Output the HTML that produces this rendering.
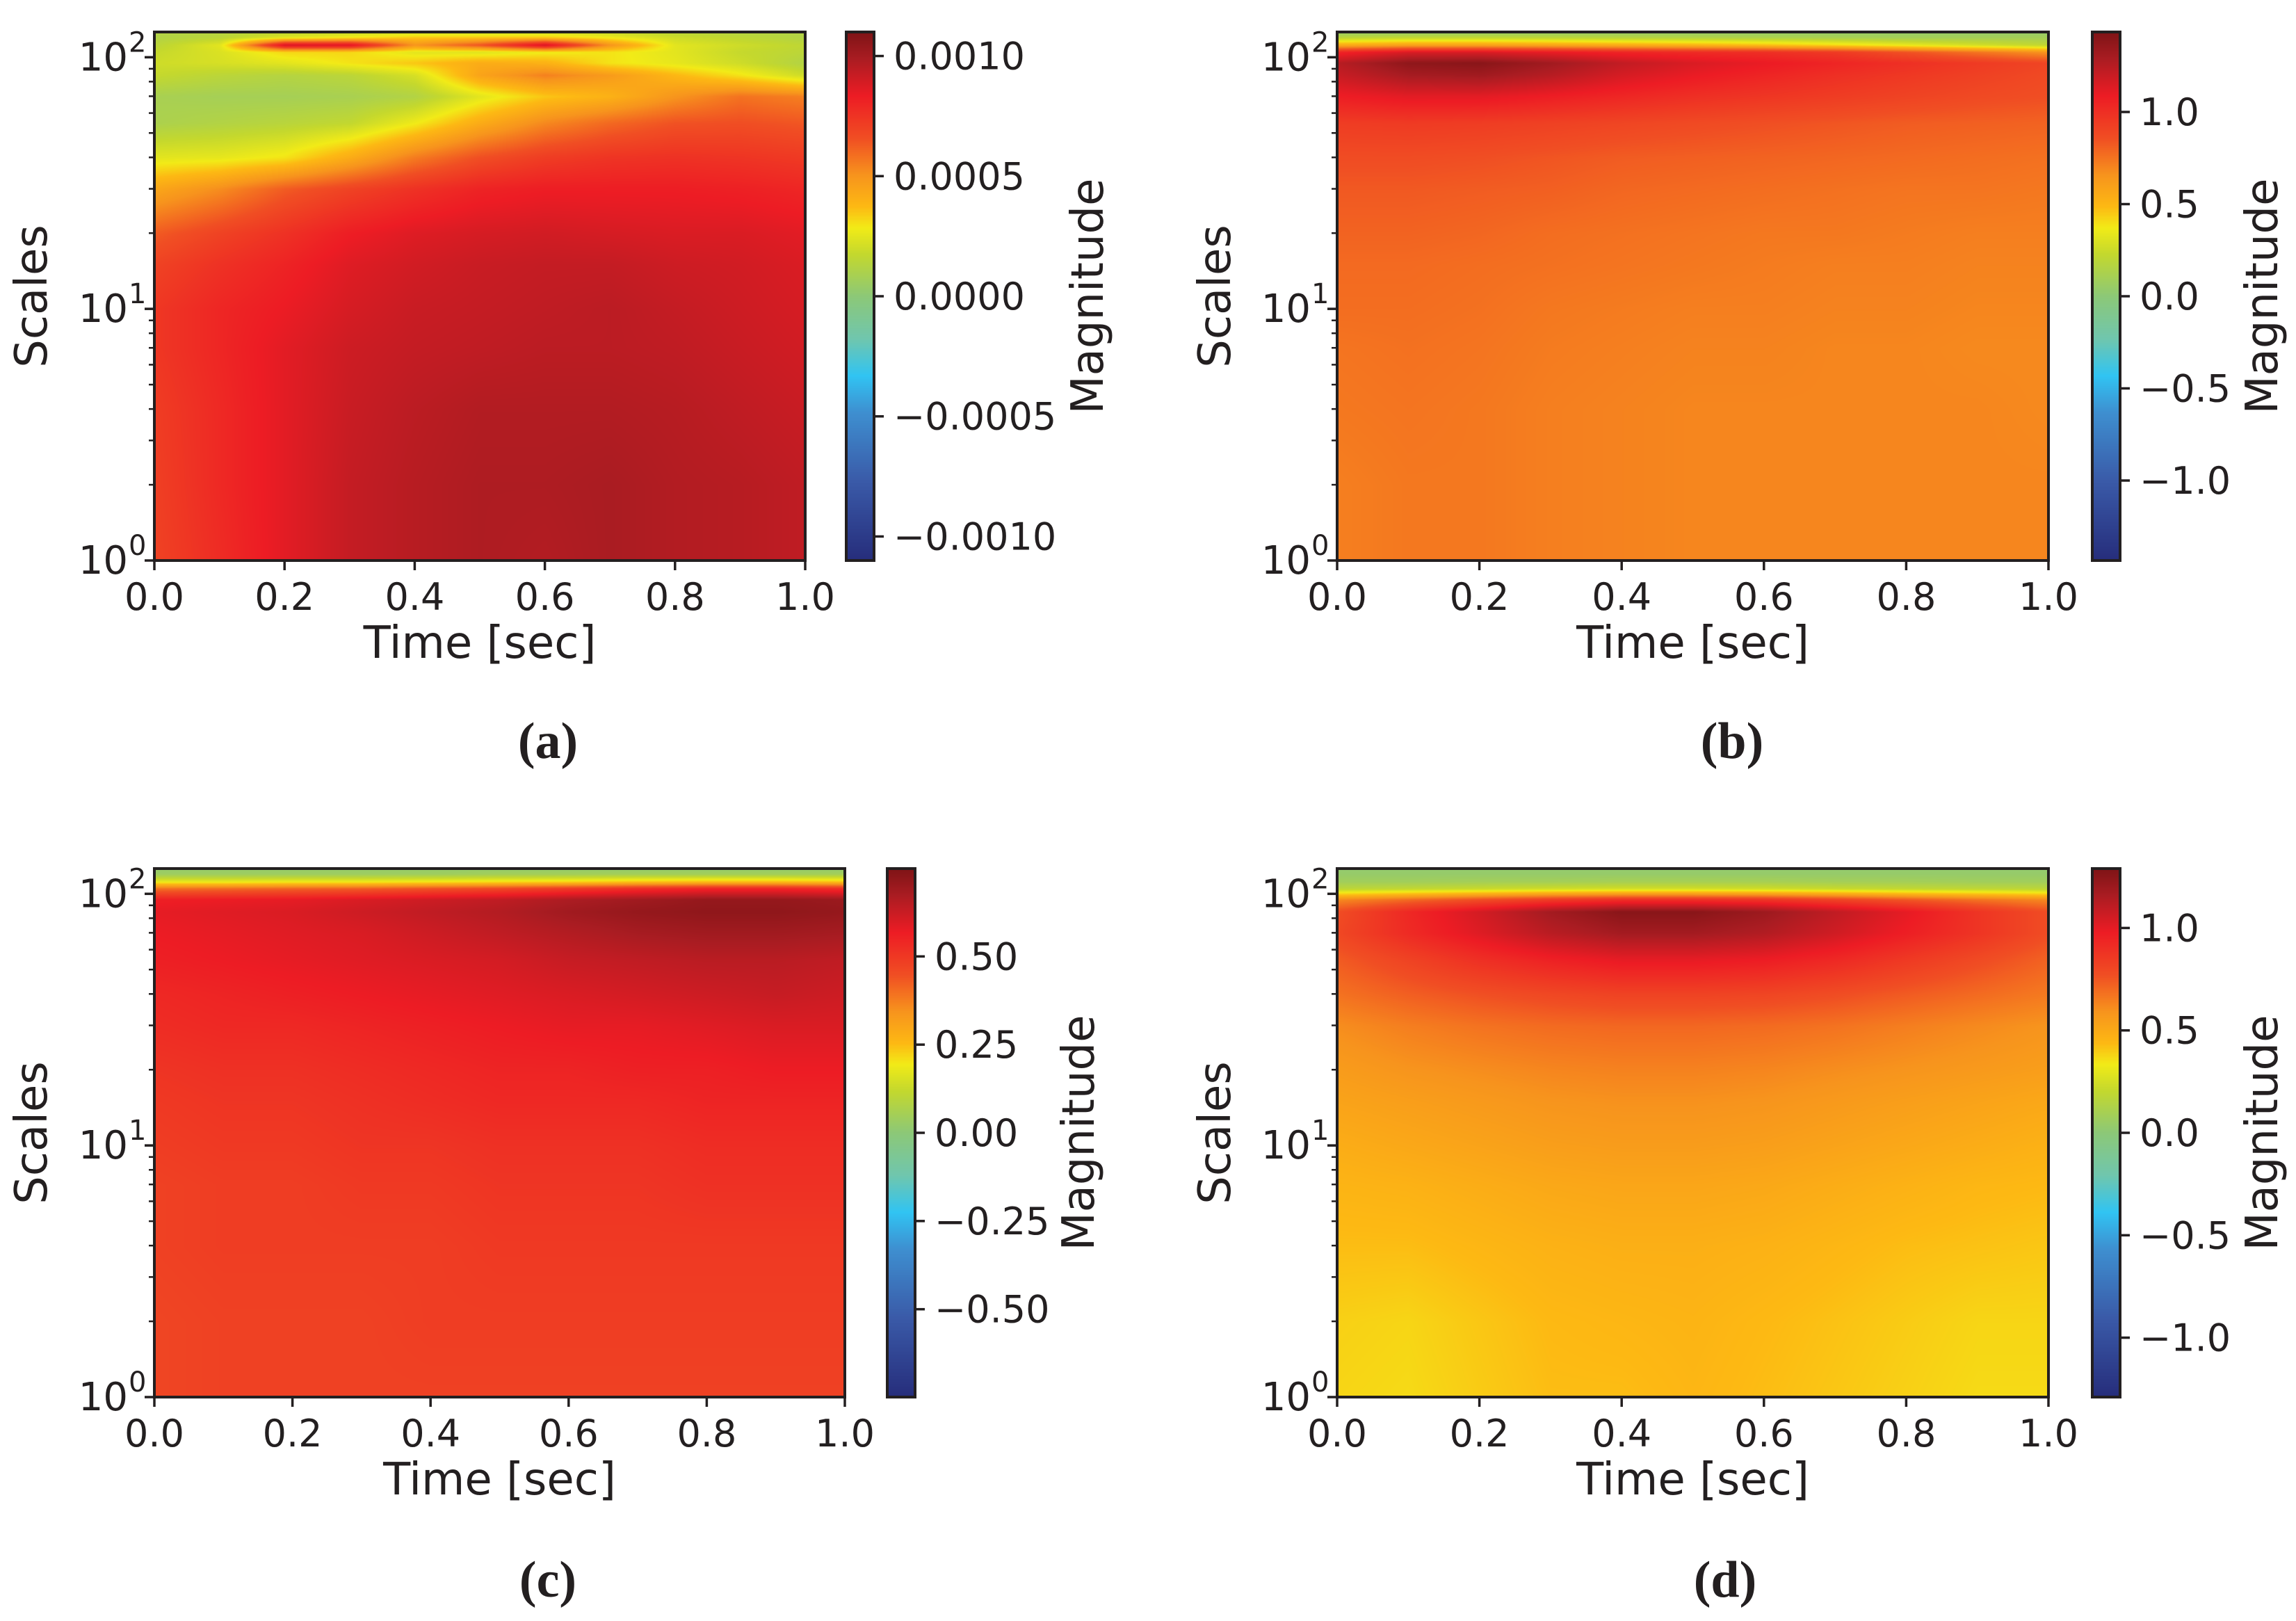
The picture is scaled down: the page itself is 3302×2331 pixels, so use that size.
<!DOCTYPE html>
<html><head><meta charset="utf-8"><style>
html,body{margin:0;padding:0;background:#fff;}
#wrap{position:relative;width:3302px;height:2331px;overflow:hidden;background:#fff;}
canvas{position:absolute;}
svg{position:absolute;left:0;top:0;}
</style></head><body>
<div id="wrap">
<svg id="svg" width="3302" height="2331"></svg>
</div>
<script>
// ---- shared data ----
const timeCols = [0,0.1,0.2,0.3,0.4,0.5,0.6,0.7,0.8,0.9,1.0];
const scaleRows = [1,2,4,7,10,15,20,30,40,55,70,85,95,105,112,120,126];
const xTicks = [0,0.2,0.4,0.6,0.8,1.0];
const xTickLabels = ["0.0","0.2","0.4","0.6","0.8","1.0"];
const yTickExps = [0,1,2];

// panel a values in units of 1e-4
const unitA = 1e-4;
const valuesA = [
[7.0,7.8,8.6,9.3,9.6,9.8,9.7,9.9,9.7,9.6,9.4],
[7.1,7.9,8.6,9.3,9.6,9.8,9.8,9.9,9.7,9.6,9.4],
[7.2,7.9,8.6,9.2,9.5,9.7,9.7,9.7,9.6,9.4,9.2],
[7.4,8.0,8.6,9.1,9.3,9.4,9.5,9.5,9.4,9.2,9.0],
[7.4,8.0,8.4,8.9,9.2,9.3,9.4,9.5,9.3,9.1,8.9],
[7.0,7.6,8.1,8.7,9.0,9.2,9.3,9.3,9.1,9.0,8.8],
[6.3,7.0,7.6,8.3,8.7,8.9,9.0,8.9,8.8,8.8,8.6],
[4.4,5.2,6.3,7.0,7.6,8.1,8.3,8.3,8.3,8.2,8.0],
[2.5,2.6,3.0,4.2,5.6,6.6,7.2,7.5,7.6,7.5,7.3],
[1.0,1.2,1.4,1.7,2.8,4.2,5.3,6.0,6.5,6.6,6.4],
[0.9,0.8,0.8,0.9,1.2,2.5,3.5,4.0,5.0,5.8,5.5],
[1.8,1.5,1.3,1.5,2.2,4.5,5.5,4.8,3.8,3.0,2.0],
[2.0,2.2,2.5,3.0,3.5,4.2,4.0,3.0,2.6,2.0,1.2],
[1.8,2.3,3.2,3.2,2.5,2.4,2.8,3.0,2.5,1.8,1.5],
[1.5,2.5,9.0,8.8,5.0,6.5,9.0,5.0,2.5,2.0,1.6],
[1.2,1.5,2.5,3.0,3.5,3.5,3.5,2.8,2.0,1.6,1.2],
[1.2,1.3,1.5,1.8,2.0,2.0,2.0,1.8,1.5,1.3,1.2]];
const valuesB = [
[0.72,0.74,0.74,0.72,0.71,0.70,0.70,0.70,0.70,0.70,0.70],
[0.72,0.74,0.74,0.72,0.71,0.70,0.70,0.70,0.70,0.70,0.70],
[0.74,0.75,0.74,0.72,0.71,0.70,0.70,0.70,0.70,0.70,0.69],
[0.75,0.76,0.75,0.73,0.72,0.71,0.71,0.70,0.70,0.69,0.69],
[0.77,0.77,0.76,0.74,0.73,0.72,0.72,0.71,0.71,0.70,0.70],
[0.78,0.78,0.77,0.76,0.75,0.74,0.73,0.72,0.72,0.71,0.71],
[0.80,0.80,0.79,0.77,0.76,0.75,0.74,0.74,0.73,0.72,0.72],
[0.83,0.83,0.82,0.81,0.79,0.78,0.77,0.76,0.75,0.75,0.74],
[0.87,0.87,0.86,0.84,0.82,0.81,0.80,0.79,0.78,0.77,0.76],
[0.94,0.95,0.94,0.92,0.90,0.88,0.86,0.84,0.82,0.81,0.80],
[1.08,1.12,1.12,1.08,1.04,1.00,0.97,0.94,0.91,0.88,0.86],
[1.20,1.30,1.32,1.25,1.16,1.10,1.05,1.00,0.96,0.92,0.88],
[1.25,1.38,1.40,1.32,1.22,1.15,1.10,1.05,1.00,0.95,0.90],
[1.05,1.15,1.15,1.10,1.05,1.02,1.00,0.95,0.85,0.75,0.65],
[0.55,0.60,0.60,0.58,0.55,0.52,0.48,0.42,0.35,0.28,0.22],
[0.20,0.22,0.22,0.20,0.18,0.16,0.14,0.12,0.10,0.10,0.10],
[0.05,0.05,0.05,0.05,0.05,0.05,0.05,0.05,0.05,0.05,0.05]];
const valuesC = [
[0.47,0.48,0.48,0.48,0.48,0.48,0.48,0.48,0.48,0.48,0.48],
[0.47,0.48,0.48,0.48,0.49,0.49,0.49,0.49,0.49,0.49,0.49],
[0.48,0.49,0.49,0.49,0.49,0.50,0.50,0.50,0.50,0.50,0.50],
[0.48,0.49,0.49,0.50,0.50,0.51,0.51,0.51,0.52,0.52,0.52],
[0.49,0.50,0.50,0.51,0.51,0.52,0.52,0.52,0.53,0.53,0.53],
[0.50,0.51,0.51,0.52,0.53,0.54,0.54,0.54,0.55,0.55,0.55],
[0.51,0.52,0.52,0.53,0.54,0.55,0.55,0.56,0.56,0.57,0.57],
[0.53,0.54,0.54,0.55,0.56,0.57,0.58,0.58,0.59,0.60,0.60],
[0.54,0.55,0.56,0.57,0.58,0.59,0.60,0.61,0.62,0.63,0.62],
[0.56,0.57,0.58,0.59,0.60,0.61,0.63,0.64,0.65,0.65,0.64],
[0.57,0.58,0.59,0.60,0.62,0.64,0.66,0.68,0.69,0.69,0.68],
[0.58,0.59,0.60,0.62,0.64,0.66,0.69,0.71,0.72,0.72,0.71],
[0.56,0.57,0.58,0.60,0.62,0.64,0.67,0.69,0.71,0.71,0.70],
[0.40,0.41,0.42,0.43,0.45,0.47,0.50,0.53,0.55,0.55,0.53],
[0.18,0.18,0.19,0.19,0.20,0.21,0.22,0.24,0.25,0.25,0.24],
[0.04,0.04,0.04,0.04,0.04,0.05,0.05,0.05,0.05,0.05,0.05],
[0.02,0.02,0.02,0.02,0.02,0.02,0.02,0.02,0.02,0.02,0.02]];
const valuesD = [
[0.38,0.37,0.40,0.43,0.43,0.45,0.43,0.41,0.39,0.37,0.37],
[0.39,0.38,0.41,0.44,0.45,0.46,0.44,0.42,0.40,0.38,0.38],
[0.43,0.43,0.45,0.47,0.48,0.48,0.47,0.45,0.43,0.42,0.41],
[0.46,0.47,0.49,0.51,0.52,0.52,0.51,0.49,0.47,0.45,0.44],
[0.49,0.51,0.53,0.55,0.56,0.56,0.55,0.53,0.51,0.49,0.47],
[0.53,0.55,0.57,0.59,0.60,0.60,0.59,0.57,0.55,0.53,0.51],
[0.56,0.59,0.61,0.63,0.64,0.64,0.63,0.61,0.59,0.57,0.55],
[0.61,0.65,0.68,0.70,0.71,0.71,0.70,0.68,0.65,0.62,0.59],
[0.68,0.73,0.77,0.80,0.82,0.82,0.81,0.78,0.74,0.70,0.66],
[0.74,0.82,0.90,0.96,1.00,1.00,0.98,0.93,0.86,0.79,0.72],
[0.80,0.92,1.02,1.12,1.18,1.18,1.14,1.06,0.97,0.88,0.78],
[0.78,0.93,1.05,1.18,1.26,1.26,1.20,1.10,1.00,0.88,0.78],
[0.62,0.70,0.78,0.85,0.90,0.90,0.88,0.82,0.75,0.68,0.62],
[0.18,0.20,0.22,0.24,0.25,0.25,0.24,0.22,0.20,0.19,0.18],
[0.08,0.08,0.09,0.09,0.10,0.10,0.10,0.09,0.09,0.08,0.08],
[0.04,0.04,0.04,0.04,0.04,0.04,0.04,0.04,0.04,0.04,0.04],
[0.03,0.03,0.03,0.03,0.03,0.03,0.03,0.03,0.03,0.03,0.03]];

const cbarTicksA = [-0.001,-0.0005,0,0.0005,0.001];
const cbarLabelsA = ["\u22120.0010","\u22120.0005","0.0000","0.0005","0.0010"];
const cbarTicksB = [-1.0,-0.5,0,0.5,1.0];
const cbarLabelsB = ["\u22121.0","\u22120.5","0.0","0.5","1.0"];
const cbarTicksC = [-0.5,-0.25,0,0.25,0.5];
const cbarLabelsC = ["\u22120.50","\u22120.25","0.00","0.25","0.50"];
const cbarTicksD = [-1.0,-0.5,0,0.5,1.0];
const cbarLabelsD = ["\u22121.0","\u22120.5","0.0","0.5","1.0"];
const rangeA = 0.0011, rangeB = 1.434, rangeC = 0.749, rangeD = 1.29;

// colormap stops
const cmap = [[0,[38,45,123]],[0.15,[58,90,168]],[0.28,[62,143,208]],[0.35,[49,196,243]],[0.42,[112,198,174]],[0.5,[140,200,120]],[0.58,[196,216,46]],[0.63,[242,235,23]],[0.67,[253,185,19]],[0.73,[247,148,29]],[0.8,[240,78,35]],[0.88,[237,28,36]],[0.95,[170,28,34]],[1,[127,20,22]]];
function cm(t){t=Math.max(0,Math.min(1,t));for(let i=1;i<cmap.length;i++){if(t<=cmap[i][0]){const a=cmap[i-1],b=cmap[i];const f=(t-a[0])/(b[0]-a[0]);return [0,1,2].map(k=>a[1][k]+(b[1][k]-a[1][k])*f);}}return cmap[cmap.length-1][1];}

const NS="http://www.w3.org/2000/svg";
const svg=document.getElementById('svg');
const wrap=document.getElementById('wrap');
function el(tag,attrs,parent){const e=document.createElementNS(NS,tag);for(const k in attrs)e.setAttribute(k,attrs[k]);(parent||svg).appendChild(e);return e;}

const panels=[
{id:'a',L:222,R:1158,T:46,B:806,cL:1217,cR:1257,vals:valuesA,unit:unitA,range:rangeA,ticks:cbarTicksA,labels:cbarLabelsA,magX:1565,scX:46,cap:'(a)',capX:788,capY:1090},
{id:'b',L:1923,R:2946,T:46,B:806,cL:3009,cR:3049,vals:valuesB,unit:1,range:rangeB,ticks:cbarTicksB,labels:cbarLabelsB,magX:3254,scX:1748,cap:'(b)',capX:2491,capY:1090},
{id:'c',L:222,R:1215,T:1249,B:2009,cL:1276,cR:1316,vals:valuesC,unit:1,range:rangeC,ticks:cbarTicksC,labels:cbarLabelsC,magX:1552,scX:46,cap:'(c)',capX:788,capY:2296},
{id:'d',L:1923,R:2946,T:1249,B:2009,cL:3009,cR:3049,vals:valuesD,unit:1,range:rangeD,ticks:cbarTicksD,labels:cbarLabelsD,magX:3254,scX:1748,cap:'(d)',capX:2481,capY:2296}];

const logMax = Math.log10(126);
panels.forEach(p=>{
  const W=p.R-p.L, H=p.B-p.T;
  const xS=t=>p.L+t*W;
  const yS=s=>p.B-(Math.log10(s)/logMax)*H;
  const cS=v=>p.B-((v+p.range)/(2*p.range))*H;
  const cv=document.createElement('canvas');
  cv.width=W;cv.height=H;cv.style.left=p.L+'px';cv.style.top=p.T+'px';
  
  
  wrap.insertBefore(cv,svg);
  const ctx=cv.getContext('2d');const img=ctx.createImageData(W,H);
  const rowY=scaleRows.map(s=>yS(s)-p.T);
  const colX=timeCols.map(t=>xS(t)-p.L);
  for(let py=0;py<H;py++){
    let r=0;while(r<rowY.length-2&&rowY[r+1]>py)r++;
    let fr=(rowY[r]-py)/(rowY[r]-rowY[r+1]);fr=Math.max(0,Math.min(1,fr));
    for(let px=0;px<W;px++){
      let c=0;while(c<colX.length-2&&colX[c+1]<px)c++;
      let fc=(px-colX[c])/(colX[c+1]-colX[c]);fc=Math.max(0,Math.min(1,fc));
      const v0=p.vals[r][c]*(1-fc)+p.vals[r][c+1]*fc;
      const v1=p.vals[r+1][c]*(1-fc)+p.vals[r+1][c+1]*fc;
      const v=(v0*(1-fr)+v1*fr)*p.unit;
      const col=cm((v+p.range)/(2*p.range));
      const i=(py*W+px)*4;img.data[i]=col[0];img.data[i+1]=col[1];img.data[i+2]=col[2];img.data[i+3]=255;
    }
  }
  ctx.putImageData(img,0,0);
  const cb=document.createElement('canvas');
  const cw=p.cR-p.cL;cb.width=cw;cb.height=H;cb.style.left=p.cL+'px';cb.style.top=p.T+'px';
  
  
  wrap.insertBefore(cb,svg);
  const c2=cb.getContext('2d');
  for(let py=0;py<H;py++){const col=cm(1-py/H);c2.fillStyle=`rgb(${col.map(Math.round).join(',')})`;c2.fillRect(0,py,cw,1);}
  const g=el('g',{});
  el('rect',{x:p.L,y:p.T,width:W,height:H,fill:'none',stroke:'#231f20','stroke-width':4,},g);
  el('rect',{x:p.cL,y:p.T,width:cw,height:H,fill:'none',stroke:'#231f20','stroke-width':4,},g);
  const ff='"DejaVu Sans","Liberation Sans",sans-serif';
  xTicks.forEach((t,i)=>{
    el('line',{x1:xS(t),x2:xS(t),y1:p.B,y2:p.B+14,stroke:'#231f20','stroke-width':3.5},g);
    const tx=el('text',{x:xS(t),y:p.B+71,'text-anchor':'middle','font-family':ff,'font-size':54,fill:'#231f20',},g);
    tx.textContent=xTickLabels[i];
  });
  yTickExps.forEach(e=>{
    const y=yS(Math.pow(10,e));
    el('line',{x1:p.L-14,x2:p.L,y1:y,y2:y,stroke:'#231f20','stroke-width':3.5},g);
    const tx=el('text',{x:p.L-38,y:y+19,'text-anchor':'end','font-family':ff,'font-size':56,fill:'#231f20',},g);
    tx.textContent='10';
    const sup=el('text',{x:p.L-37,y:y-8,'text-anchor':'start','font-family':ff,'font-size':40,fill:'#231f20'},g);
    sup.textContent=String(e);
    if(e<2){for(let m=2;m<=9;m++){const ym=yS(m*Math.pow(10,e));el('line',{x1:p.L-8,x2:p.L,y1:ym,y2:ym,stroke:'#231f20','stroke-width':2.5},g);}}
  });
  p.ticks.forEach((v,i)=>{
    const y=cS(v);
    el('line',{x1:p.cR,x2:p.cR+14,y1:y,y2:y,stroke:'#231f20','stroke-width':3.5},g);
    const tx=el('text',{x:p.cR+28,y:y+19,'font-family':ff,'font-size':54,fill:'#231f20',},g);
    tx.textContent=p.labels[i];
  });
  const midY=(p.T+p.B)/2;
  const xl=el('text',{x:(p.L+p.R)/2,y:p.B+140,'text-anchor':'middle','font-family':ff,'font-size':64,fill:'#231f20',},g);
  xl.textContent='Time [sec]';
  const yl=el('text',{x:p.scX,y:midY,'text-anchor':'middle','font-family':ff,'font-size':64,fill:'#231f20',transform:`rotate(-90 ${p.scX} ${midY})`,'dominant-baseline':'central',},g);
  yl.textContent='Scales';
  const ml=el('text',{x:p.magX,y:midY,'text-anchor':'middle','font-family':ff,'font-size':64,fill:'#231f20',transform:`rotate(-90 ${p.magX} ${midY})`,'dominant-baseline':'central',},g);
  ml.textContent='Magnitude';
  const cap=el('text',{x:p.capX,y:p.capY,'text-anchor':'middle','font-family':'"Liberation Serif",serif','font-size':74,'font-weight':'bold',fill:'#231f20',},g);
  cap.textContent=p.cap;
});
</script>
</body></html>
